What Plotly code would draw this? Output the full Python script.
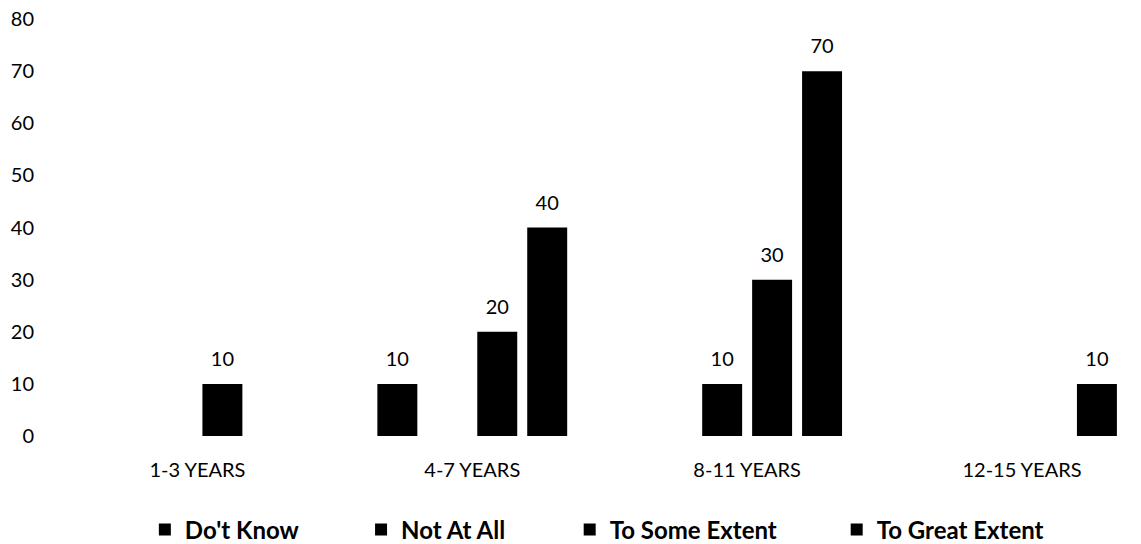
import plotly.graph_objects as go

categories = ["1-3 YEARS", "4-7 YEARS", "8-11 YEARS", "12-15 YEARS"]
series_names = ["Do't Know", "Not At All", "To Some Extent", "To Great Extent"]
dont_know = [None, 10, None, None]
not_at_all = [None, None, 10, None]
to_some_extent = [10, 20, 30, None]
to_great_extent = [None, 40, 70, 10]
y_ticks = [0, 10, 20, 30, 40, 50, 60, 70, 80]

series_values = [dont_know, not_at_all, to_some_extent, to_great_extent]

FONT = "Lato, 'Open Sans', sans-serif"

# each series gets its own legend box so the entries can be spaced freely
legend_ids = ["legend", "legend2", "legend3", "legend4"]
legend_x = [0.0785, 0.2785, 0.4715, 0.7185]

fig = go.Figure()
for name, vals, lid in zip(series_names, series_values, legend_ids):
    fig.add_trace(go.Bar(
        name=name,
        x=categories,
        y=vals,
        legend=lid,
        marker=dict(color="#000000", line=dict(width=0)),
        text=[("" if v is None else str(v)) for v in vals],
        # value label with a short empty line under it to lift it off the bar
        texttemplate="<span style='font-size:20px'>%{text}</span><br> ",
        textposition="outside",
        textfont=dict(family=FONT, size=10, color="#000000"),
        cliponaxis=False,
    ))

legend_style = dict(
    orientation="h",
    xanchor="left",
    yref="container",
    y=1 - 530 / 544,
    yanchor="middle",
    font=dict(family=FONT, size=24, color="#000000", weight="bold"),
    bgcolor="rgba(0,0,0,0)",
)

fig.update_layout(
    width=1141,
    height=544,
    paper_bgcolor="white",
    plot_bgcolor="white",
    barmode="group",
    bargap=0.273,
    bargroupgap=0.2,
    margin=dict(l=60, r=0, t=19, b=108, autoexpand=False),
    font=dict(family=FONT, size=20, color="#000000"),
    showlegend=True,
)
for lid, lx in zip(legend_ids, legend_x):
    fig.update_layout({lid: dict(legend_style, x=lx)})

fig.update_xaxes(
    range=[-0.5, 3.433],
    showgrid=False,
    showline=False,
    zeroline=False,
    ticks="",
    ticklabelstandoff=20,
    tickfont=dict(family=FONT, size=20, color="#000000"),
)
fig.update_yaxes(
    range=[0, 80],
    tickvals=y_ticks,
    showgrid=False,
    showline=False,
    zeroline=False,
    ticks="",
    ticklabelstandoff=25,
    tickfont=dict(family=FONT, size=20, color="#000000"),
)

fig.write_html("out.html")
